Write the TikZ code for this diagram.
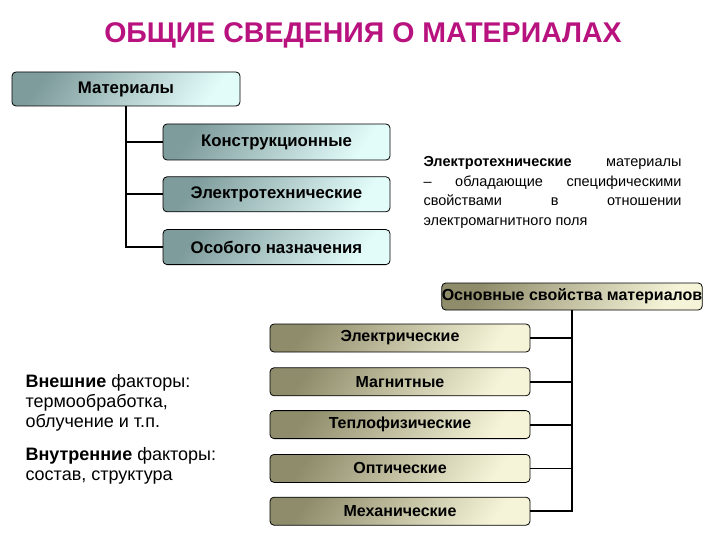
\documentclass[tikz,border=0pt]{standalone}
\usepackage{fontspec}
\setmainfont{Liberation Sans}
\usetikzlibrary{positioning}

\definecolor{tealdark}{HTML}{7F9C9C}
\definecolor{teallight}{HTML}{E2FCFA}
\definecolor{olivedark}{HTML}{8E8C6A}
\definecolor{olivelight}{HTML}{F6F4D8}
\definecolor{titlemag}{HTML}{B8127E}

\tikzset{
  tealbox/.style={draw, line width=0.8pt, rounded corners=4pt,
    left color=tealdark, right color=teallight, shading angle=55,
    minimum width=227pt, inner sep=0pt, font=\fontsize{16.8}{19}\selectfont\bfseries},
  olivebox/.style={draw, line width=0.8pt, rounded corners=4pt,
    left color=olivedark, right color=olivelight, shading angle=55,
    minimum width=260pt, minimum height=28pt, inner sep=0pt,
    font=\fontsize{16}{18}\selectfont\bfseries},
  branch/.style={line width=1.8pt}
}

\begin{document}
\begin{tikzpicture}[x=1pt,y=-1pt]
        \useasboundingbox (0,0) rectangle (720,540);
        %% title
        \node (title) at (363,35) {\fontsize{28.5}{32}\selectfont\bfseries\color{titlemag}ОБЩИЕ СВЕДЕНИЯ О МАТЕРИАЛАХ};

        \node (mat)[tealbox, minimum width=228pt, minimum height=34pt] at (126,89) {Материалы};
        \node (kon)[tealbox, minimum height=36pt] at (276.5,142) {Конструкционные};
        \node (ele)[tealbox, minimum height=35pt, below=16pt of kon] {Электротехнические};
        \node (oso)[tealbox, minimum height=35pt, below=17pt of ele] {Особого назначения};

        \node (opis)[anchor=north west, text width=258pt, align=justify,
          font=\fontsize{14.5}{19.5}\selectfont] at (420,153)
          {\textbf{Электротехнические} материалы\linebreak – обладающие специфическими\linebreak свойствами в отношении\linebreak электромагнитного поля};

        \draw[branch] (mat.south) |- (kon.west);
        \draw[branch] (mat.south) |- (ele.west);
        \draw[branch] (mat.south) |- (oso.west);

        \node (osn)[olivebox, minimum height=27pt] at (572,296.5) {Основные свойства материалов};
        \node (elk)[olivebox] at (400,338) {Электрические};
        \node (mag)[olivebox, below=15pt of elk] {Магнитные};
        \node (tep)[olivebox, below=14pt of mag] {Теплофизические};
        \node (opt)[olivebox, below=15pt of tep] {Оптические};
        \node (mex)[olivebox, below=14pt of opt] {Механические};

        \draw[branch] (osn.south) |- (elk.east);
        \draw[branch] (osn.south) |- (mag.east);
        \draw[branch] (osn.south) |- (tep.east);
        \draw[branch] (osn.south) |- (opt.east);
        \draw[branch] (osn.south) |- (mex.east);

        \node (vnesh)[anchor=north west, align=left, font=\fontsize{18}{20}\selectfont] at (22,371)
          {\textbf{Внешние} факторы:\\термообработка,\\облучение и т.п.};
        \node (vnutr)[anchor=north west, align=left, font=\fontsize{18}{20}\selectfont] at (22,444)
          {\textbf{Внутренние} факторы:\\состав, структура};

      \end{tikzpicture}
\end{document}
